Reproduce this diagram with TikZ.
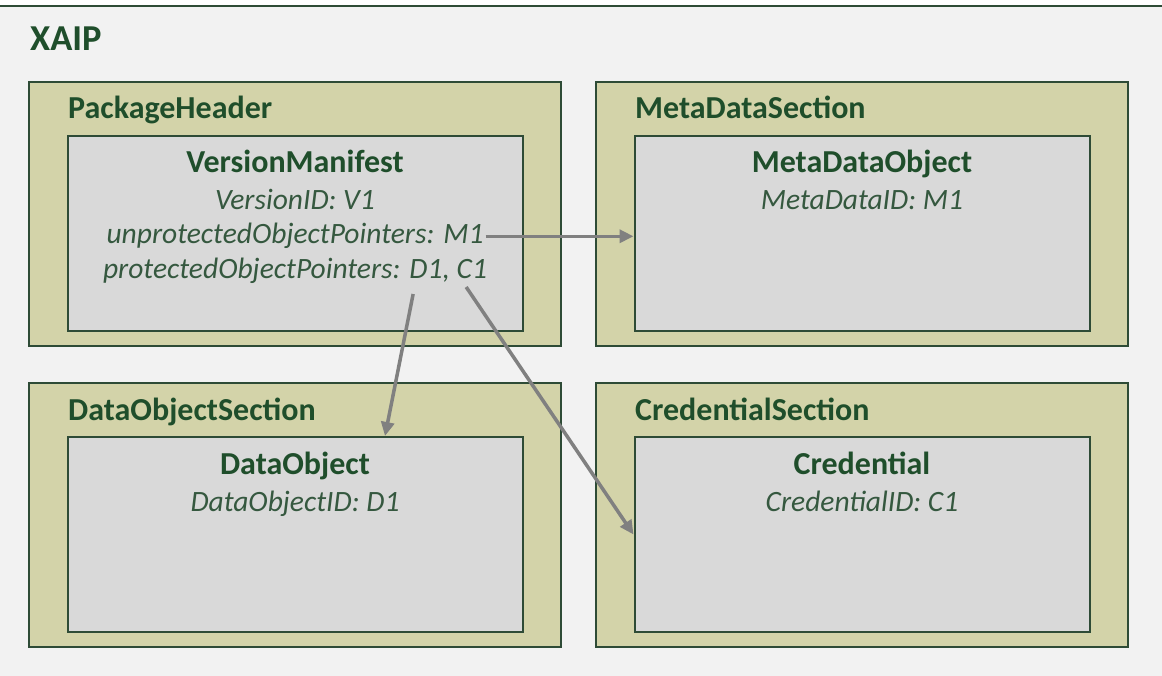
\documentclass[tikz,border=0pt]{standalone}
\usepackage{fontspec}
\setmainfont{Carlito}
\usetikzlibrary{positioning,arrows.meta}

\definecolor{xbg}{HTML}{F2F2F2}
\definecolor{xline}{HTML}{2E4B36}
\definecolor{secfill}{HTML}{D3D3A9}
\definecolor{objfill}{HTML}{D9D9D9}
\definecolor{xgreen}{HTML}{1F4E2B}
\definecolor{xitalic}{HTML}{35583F}
\definecolor{ptrgray}{HTML}{808080}

\tikzset{
  section/.style={draw=xline, line width=2pt, fill=secfill, rectangle, minimum width=532pt, minimum height=264pt, inner sep=0pt},
  object/.style={draw=xline, line width=2pt, fill=objfill, rectangle, minimum width=455pt, minimum height=195pt, inner sep=0pt},
  sectitle/.style={text=xgreen, font=\fontsize{32}{38}\selectfont\bfseries, inner sep=0pt, anchor=base west},
  objtitle/.style={text=xgreen, font=\fontsize{32}{38}\selectfont\bfseries, inner sep=0pt, anchor=base},
  attr/.style={text=xitalic, font=\fontsize{29.5}{35}\selectfont\itshape, inner sep=0pt, anchor=base},
  ptr/.style={draw=ptrgray, line width=3.5pt, -{Triangle[length=14pt,width=13pt]}}
}

\begin{document}
\begin{tikzpicture}[x=1pt, y=-1pt]
        \useasboundingbox (0,0) rectangle (1162,676);
        % Background
        \fill[white] (0,0) rectangle (1162,7);
        \fill[xbg] (0,7) rectangle (1162,676);
        \draw[xline, line width=2.5pt] (0,6) -- (1162,6);
        \node[text=xgreen, font=\fontsize{36.5}{44}\selectfont\bfseries, inner sep=0pt, anchor=base west] (xaip) at (30,51) {XAIP};
        
        % Sections
        \node[section, anchor=north west] (ph) at (28,81) {};
        \node[section, right=33pt of ph] (mds) {};
        \node[section, below=35pt of ph] (dos) {};
        \node[section, right=33pt of dos] (cs) {};
        
        \node[sectitle] (phtitle) at ([xshift=40pt,yshift=-38pt]ph.north west) {PackageHeader};
        \node[sectitle] (mdstitle) at ([xshift=40pt,yshift=-38pt]mds.north west) {MetaDataSection};
        \node[sectitle] (dostitle) at ([xshift=40pt,yshift=-38pt]dos.north west) {DataObjectSection};
        \node[sectitle] (cstitle) at ([xshift=40pt,yshift=-38pt]cs.north west) {CredentialSection};
        
        % Objects
        \node[object, anchor=south] (vm) at ([yshift=15pt]ph.south) {};
        \node[object, anchor=south] (mdo) at ([yshift=15pt]mds.south) {};
        \node[object, anchor=south] (dobj) at ([yshift=15pt]dos.south) {};
        \node[object, anchor=south] (cred) at ([yshift=15pt]cs.south) {};
        
        \node[objtitle] (vmtitle) at ([yshift=-38pt]vm.north) {VersionManifest};
        \node[attr] (vmid) at ([yshift=-75pt]vm.north) {VersionID: V1};
        \node[attr] (unprot) at ([yshift=-109pt]vm.north) {unprotectedObjectPointers: M1};
        \node[attr] (prot) at ([yshift=-144pt]vm.north) {protectedObjectPointers: D1, C1};
        
        \node[objtitle] (mdotitle) at ([yshift=-38pt]mdo.north) {MetaDataObject};
        \node[attr] (mdoid) at ([yshift=-75pt]mdo.north) {MetaDataID: M1};
        
        \node[objtitle] (dobjtitle) at ([yshift=-38pt]dobj.north) {DataObject};
        \node[attr] (dobjid) at ([yshift=-75pt]dobj.north) {DataObjectID: D1};
        
        \node[objtitle] (credtitle) at ([yshift=-38pt]cred.north) {Credential};
        \node[attr] (credid) at ([yshift=-75pt]cred.north) {CredentialID: C1};
        
        % Pointers
        \coordinate (d1) at ([xshift=-74pt,yshift=-15pt]prot.base east);
        \coordinate (c1) at ([xshift=-21pt,yshift=-8pt]prot.base east);
        \draw[ptr] ([xshift=2pt]unprot.east) -- (unprot.east -| mdo.west);
        \draw[ptr] (d1) -- ([xshift=90pt]dobj.north);
        \draw[ptr] (c1) -- (cred.west);
    \end{tikzpicture}
\end{document}
